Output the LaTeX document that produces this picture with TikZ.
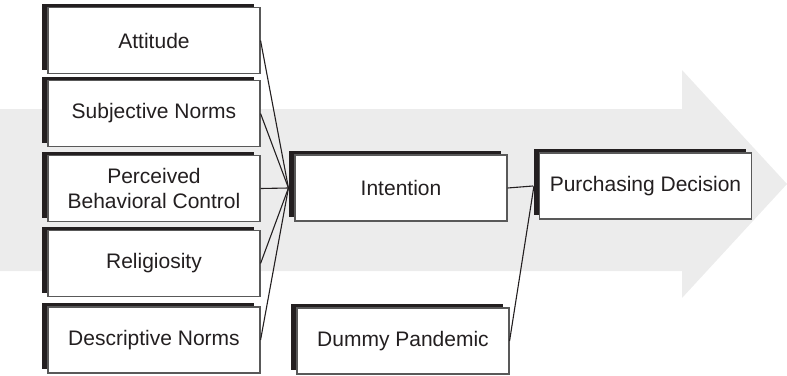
\documentclass[tikz,border=0pt]{standalone}
\usepackage{fontspec}
\setmainfont{Liberation Sans}
\usepackage{tikz}
\usetikzlibrary{shadows}

\definecolor{arrowgrey}{RGB}{236,236,236}
\definecolor{inkgrey}{RGB}{35,31,32}

\tikzset{
  factor/.style={draw=black!65, line width=1.1pt, fill=white,
    minimum width=212pt, minimum height=66pt, inner sep=0pt,
    align=center, text=inkgrey, font=\fontsize{21}{25}\selectfont,
    general shadow={fill=inkgrey, shadow xshift=-6pt, shadow yshift=4pt}},
  link/.style={draw=inkgrey, line width=1.1pt}
}

\begin{document}
\begin{tikzpicture}[x=1pt,y=-1pt]
\useasboundingbox (0,0) rectangle (787,375);

% background arrow
\fill[arrowgrey] (0,109) -- (682,109) -- (682,70) -- (787,184)
  -- (682,298) -- (682,271) -- (0,271) -- cycle;

%-------------------------------------
\node[factor] (att) at (154,40.5) {Attitude};
\node[factor] (sn)  at (154,113.5) {Subjective Norms};
\node[factor] (pbc) at (154,188.5) {Perceived\\Behavioral Control};
\node[factor] (rel) at (154,263.5) {Religiosity};
\node[factor] (dn)  at (154,340) {Descriptive Norms};

\node[factor] (int) at (401,188) {Intention};
\node[factor] (dp)  at (403,341) {Dummy Pandemic};
\node[factor] (pd)  at (645.5,186) {Purchasing Decision};

%-------------------------------------
\foreach \f in {att,sn,pbc,rel,dn}
  \draw[link] (\f.east) -- ([xshift=-6pt]int.west);

\draw[link] (int.east) -- ([xshift=-6pt]pd.west);
\draw[link] (dp.east) -- ([xshift=-5pt]pd.west);
\end{tikzpicture}
\end{document}
